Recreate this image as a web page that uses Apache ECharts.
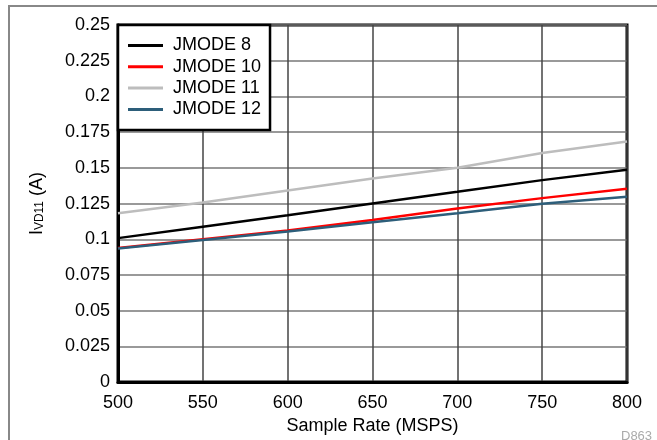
<!DOCTYPE html>
<html>
<head>
<meta charset="utf-8">
<script src="https://cdn.jsdelivr.net/npm/echarts@6/dist/echarts.min.js"></script>
<style>
html,body{margin:0;padding:0;background:#fff;}
#chart{width:657px;height:440px;}
</style>
</head>
<body>
<div id="chart"></div>
<script>
const sampleRates = [500, 550, 600, 650, 700, 750, 800];
const jmode8  = [0.1008, 0.1088, 0.1168, 0.1251, 0.1332, 0.1414, 0.1486];
const jmode10 = [0.0938, 0.1000, 0.1062, 0.1135, 0.1216, 0.1288, 0.1353];
const jmode11 = [0.1182, 0.1258, 0.1342, 0.1426, 0.1500, 0.1604, 0.1685];
const jmode12 = [0.0935, 0.0995, 0.1055, 0.1119, 0.1182, 0.1249, 0.1297];
const seriesNames = ['JMODE 8', 'JMODE 10', 'JMODE 11', 'JMODE 12'];
const seriesColors = ['#000000', '#ff0000', '#bdbdbd', '#2d5e7a'];
const seriesData = [jmode8, jmode10, jmode11, jmode12];

const FONT = '"Liberation Sans", Arial, Helvetica, sans-serif';
const chart = echarts.init(document.getElementById('chart'), null, {renderer: 'canvas'});

chart.setOption({
  animation: false,
  backgroundColor: '#ffffff',
  textStyle: {fontFamily: FONT},
  grid: {
    left: 118, right: 30, top: 25, bottom: 56,
    show: true, borderColor: '#000', borderWidth: 3, backgroundColor: '#fff'
  },
  legend: {
    left: 118, top: 25,
    orient: 'vertical',
    backgroundColor: '#fff',
    borderColor: '#000', borderWidth: 2.5,
    padding: [10, 9, 10, 10],
    itemWidth: 35, itemHeight: 3, itemGap: 0.3,
    textStyle: {fontFamily: FONT, fontSize: 18, color: '#000', lineHeight: 21, padding: [0, 0, 0, 5]},
    data: seriesNames.map(n => ({name: n, icon: 'rect'})),
    itemStyle: {borderWidth: 0}
  },
  xAxis: {
    type: 'value', min: 500, max: 800, interval: 50,
    name: 'Sample Rate (MSPS)', nameLocation: 'middle', nameGap: 33,
    nameTextStyle: {fontFamily: FONT, fontSize: 18, color: '#000'},
    axisLine: {show: true, lineStyle: {color: '#000', width: 3}},
    axisTick: {show: false},
    axisLabel: {fontFamily: FONT, fontSize: 18, color: '#000', margin: 12},
    splitLine: {show: true, lineStyle: {color: '#444', width: 1.5}}
  },
  yAxis: {
    type: 'value', min: 0, max: 0.25, interval: 0.025,
    name: '{i|I}{sub|VD11}{i| (A)}', nameLocation: 'middle', nameGap: 72,
    nameTextStyle: {
      fontFamily: FONT, fontSize: 18, color: '#000',
      rich: {
        i: {fontFamily: FONT, fontSize: 18, color: '#000', lineHeight: 22, verticalAlign: 'bottom'},
        sub: {fontFamily: FONT, fontSize: 12, color: '#000', lineHeight: 12, verticalAlign: 'bottom'}
      }
    },
    axisLine: {show: true, lineStyle: {color: '#000', width: 3}},
    axisTick: {show: false},
    axisLabel: {
      fontFamily: FONT, fontSize: 18, color: '#000', margin: 8,
      formatter: v => String(+v.toFixed(3))
    },
    splitLine: {show: true, lineStyle: {color: '#777', width: 1.5}}
  },
  series: seriesNames.map((n, i) => ({
    name: n, type: 'line', symbol: 'none',
    color: seriesColors[i],
    lineStyle: {color: seriesColors[i], width: 2.5},
    itemStyle: {color: seriesColors[i]},
    data: sampleRates.map((x, k) => [x, seriesData[i][k]])
  })),
  graphic: [
    {type: 'rect', shape: {x: 9, y: 6, width: 700, height: 500},
     style: {fill: null, stroke: '#888', lineWidth: 2}, silent: true, z: -1},
    {type: 'text', left: 621, top: 430,
     style: {text: 'D863', fill: '#aaa', font: '13px ' + FONT}, silent: true}
  ]
});
</script>
</body>
</html>
